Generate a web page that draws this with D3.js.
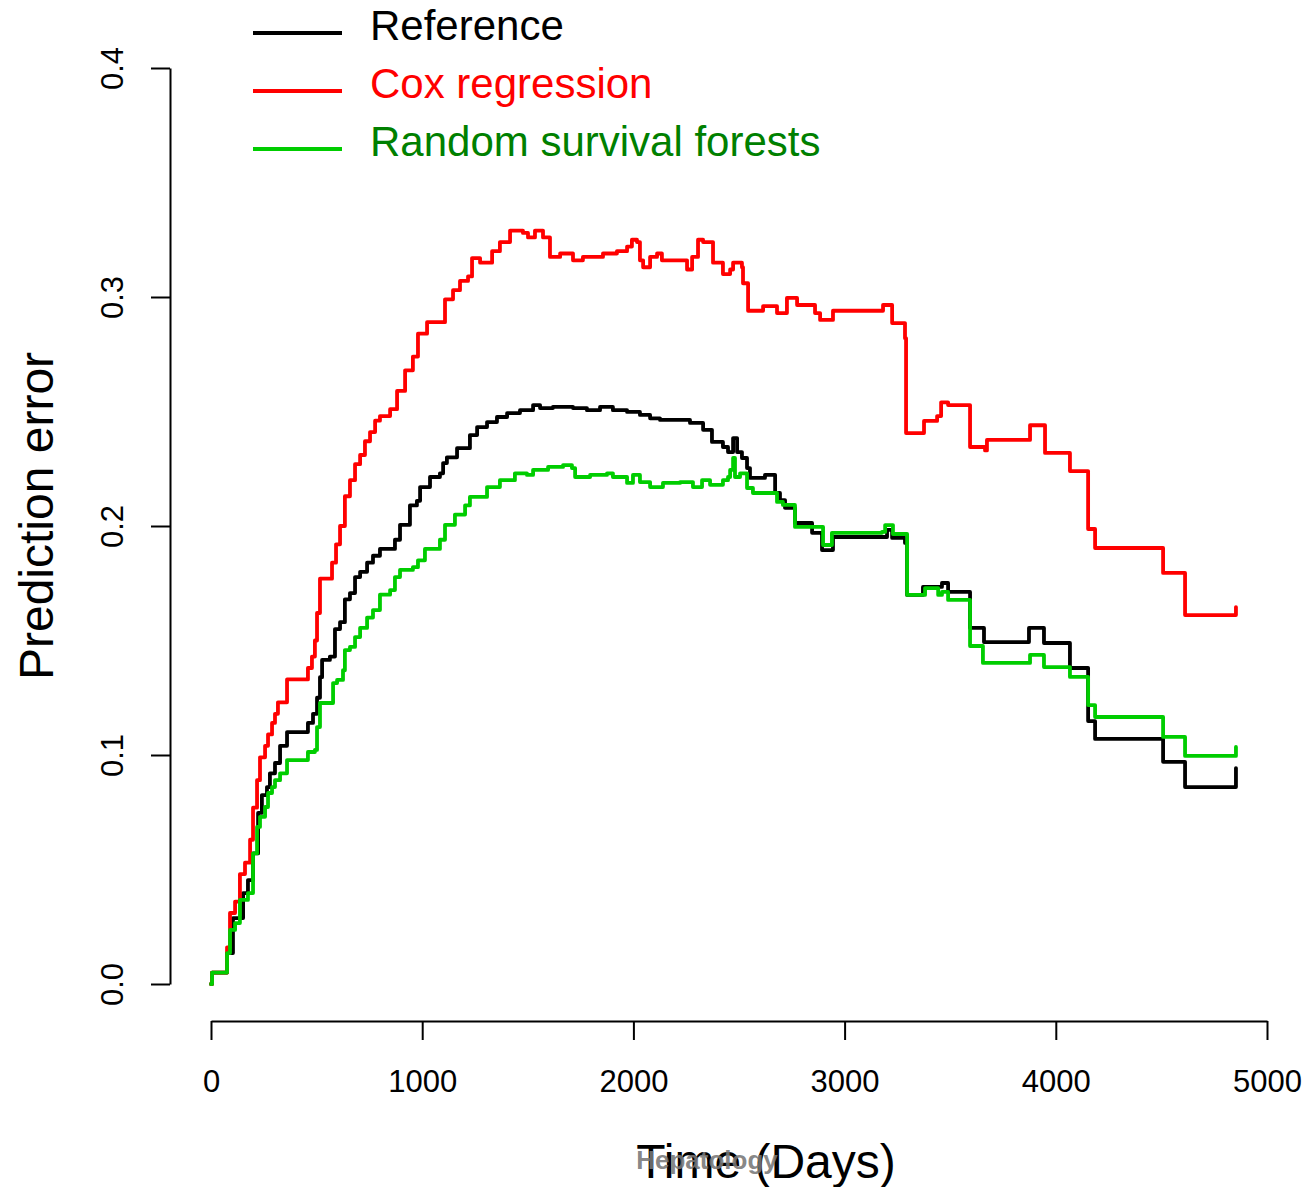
<!DOCTYPE html>
<html>
<head>
<meta charset="utf-8">
<script src="https://cdn.jsdelivr.net/npm/d3@7"></script>
<style>
  body { margin: 0; background: #fff; }
  svg text { font-family: "Liberation Sans", Arial, Helvetica, sans-serif; }
</style>
</head>
<body>
<div id="chart"></div>
<script>
// Chart size
var width = 1308;
var height = 1187;

// Series: [time in days, prediction error]
var refCurve = [
  [0, 0], [5, 0.005], [76, 0.0135], [104, 0.0288], [152, 0.0397], [175, 0.0454],
  [199, 0.057], [223, 0.0747], [241, 0.0825], [265, 0.086], [279, 0.092], [303, 0.0965],
  [327, 0.104], [360, 0.110], [459, 0.114], [483, 0.118], [502, 0.125], [516, 0.134],
  [526, 0.1415], [563, 0.143], [587, 0.155], [611, 0.158], [634, 0.168], [658, 0.1707],
  [682, 0.1777], [706, 0.180], [739, 0.184], [767, 0.187], [800, 0.190], [871, 0.194],
  [895, 0.2005], [942, 0.209], [975, 0.211], [990, 0.217], [1037, 0.2214], [1084, 0.223],
  [1099, 0.2275], [1117, 0.230], [1165, 0.234], [1226, 0.2397], [1260, 0.2432], [1307, 0.2454],
  [1354, 0.2476], [1402, 0.2493], [1463, 0.2506], [1525, 0.2528], [1558, 0.2515], [1619, 0.252],
  [1714, 0.2515], [1780, 0.2506], [1842, 0.252], [1903, 0.2506], [1970, 0.2498], [2031, 0.2485],
  [2079, 0.247], [2126, 0.2463], [2268, 0.245], [2330, 0.242], [2372, 0.2367], [2424, 0.2345],
  [2448, 0.2323], [2472, 0.2384], [2491, 0.2323], [2514, 0.2297], [2538, 0.2253], [2552, 0.221],
  [2623, 0.2223], [2671, 0.2144], [2694, 0.2113], [2718, 0.2079], [2765, 0.2013], [2846, 0.197],
  [2893, 0.1895], [2945, 0.1952], [3201, 0.1983], [3225, 0.1948], [3286, 0.1926], [3296, 0.1699],
  [3371, 0.1734], [3461, 0.1751], [3490, 0.1712], [3594, 0.1555], [3660, 0.1493], [3873, 0.1555],
  [3944, 0.1489], [4067, 0.138], [4153, 0.1148], [4186, 0.107], [4508, 0.097], [4612, 0.086],
  [4853, 0.0943]
];

var coxCurve = [
  [0, 0], [5, 0.005], [76, 0.016], [90, 0.031], [114, 0.036], [137, 0.048], [161, 0.053],
  [185, 0.063], [199, 0.077], [218, 0.089], [232, 0.099], [256, 0.104], [270, 0.109],
  [289, 0.114], [303, 0.118], [317, 0.123], [360, 0.133], [459, 0.138], [478, 0.143],
  [492, 0.150], [502, 0.162], [516, 0.177], [573, 0.184], [592, 0.192], [611, 0.200],
  [634, 0.213], [658, 0.220], [682, 0.227], [706, 0.231], [729, 0.237], [753, 0.241],
  [777, 0.246], [800, 0.248], [848, 0.251], [881, 0.259], [919, 0.268], [956, 0.274],
  [980, 0.284], [1023, 0.289], [1108, 0.299], [1146, 0.303], [1179, 0.307], [1217, 0.309],
  [1236, 0.317], [1274, 0.315], [1331, 0.320], [1368, 0.324], [1416, 0.329], [1477, 0.328],
  [1501, 0.326], [1534, 0.329], [1572, 0.326], [1605, 0.3175], [1653, 0.319], [1714, 0.316],
  [1761, 0.3175], [1856, 0.319], [1922, 0.320], [1970, 0.322], [1993, 0.325], [2017, 0.324],
  [2031, 0.316], [2046, 0.313], [2079, 0.3175], [2112, 0.319], [2135, 0.316], [2254, 0.312],
  [2278, 0.3175], [2306, 0.325], [2330, 0.324], [2377, 0.315], [2424, 0.310], [2458, 0.312],
  [2472, 0.315], [2514, 0.313], [2519, 0.306], [2543, 0.294], [2614, 0.296], [2680, 0.293],
  [2727, 0.2996], [2775, 0.2965], [2860, 0.293], [2884, 0.290], [2945, 0.294], [3182, 0.2965],
  [3225, 0.2886], [3286, 0.282], [3291, 0.2406], [3376, 0.2459], [3438, 0.248], [3457, 0.254],
  [3490, 0.2528], [3594, 0.2345], [3665, 0.233], [3674, 0.2376], [3878, 0.244], [3949, 0.2319],
  [4067, 0.224], [4153, 0.1987], [4186, 0.1904], [4508, 0.1795], [4612, 0.1611], [4853, 0.1646]
];

var rsfCurve = [
  [0, 0], [5, 0.005], [76, 0.0135], [90, 0.0236], [114, 0.0266], [137, 0.0367], [175, 0.0397],
  [199, 0.057], [218, 0.0686], [232, 0.073], [256, 0.0773], [270, 0.0834], [289, 0.086],
  [303, 0.089], [327, 0.092], [360, 0.0978], [459, 0.1013], [492, 0.1022], [502, 0.1122],
  [516, 0.1227], [578, 0.1314], [597, 0.1328], [625, 0.137], [634, 0.1458], [658, 0.1472],
  [682, 0.1515], [706, 0.1555], [739, 0.160], [767, 0.1633], [800, 0.170], [848, 0.172],
  [871, 0.1777], [895, 0.1808], [956, 0.182], [980, 0.185], [1013, 0.190], [1084, 0.194],
  [1108, 0.2005], [1155, 0.205], [1203, 0.209], [1226, 0.2127], [1307, 0.217], [1368, 0.220],
  [1439, 0.223], [1496, 0.2223], [1525, 0.2245], [1596, 0.2258], [1667, 0.2266], [1709, 0.2253],
  [1724, 0.2214], [1795, 0.2223], [1875, 0.223], [1903, 0.2214], [1970, 0.2188], [1998, 0.2223],
  [2031, 0.2192], [2079, 0.217], [2140, 0.2188], [2221, 0.2192], [2282, 0.217], [2325, 0.220],
  [2363, 0.218], [2424, 0.220], [2448, 0.2214], [2458, 0.2245], [2472, 0.2297], [2481, 0.2214],
  [2505, 0.223], [2538, 0.2166], [2566, 0.2144], [2661, 0.2144], [2680, 0.2105], [2708, 0.2092],
  [2765, 0.1996], [2898, 0.1917], [2940, 0.197], [3177, 0.1974], [3192, 0.2004], [3229, 0.1965],
  [3296, 0.1699], [3381, 0.1729], [3443, 0.1699], [3461, 0.1712], [3490, 0.1677], [3594, 0.1476],
  [3655, 0.1402], [3878, 0.1437], [3944, 0.1384], [4067, 0.1341], [4153, 0.1218], [4186, 0.1166],
  [4508, 0.1079], [4612, 0.0996], [4853, 0.1035]
];

// Legend entries and axis ticks
var seriesNames = ["Reference", "Cox regression", "Random survival forests"];
var lineColors = ["#000000", "#ff0000", "#00cd00"];
var textColors = ["#000000", "#ff0000", "#008000"];
var xTicks = [0, 1000, 2000, 3000, 4000, 5000];
var yTicks = [0, 0.1, 0.2, 0.3, 0.4];

// Scales
var x = d3.scaleLinear().domain([0, 5000]).range([211, 1267]);
var y = d3.scaleLinear().domain([0, 0.4]).range([984, 68]);

var svg = d3.select("#chart")
    .append("svg")
    .attr("width", width)
    .attr("height", height);

// Y axis (R style, offset to the left)
var yAxis = svg.append("g")
    .attr("transform", "translate(170,0)")
    .call(d3.axisLeft(y).tickValues(yTicks).tickFormat(d3.format(".1f")).tickSize(19).tickSizeOuter(0));
yAxis.selectAll("path, line").attr("stroke", "#000").attr("stroke-width", 2);
yAxis.selectAll("text")
    .attr("x", null).attr("dy", null)
    .attr("transform", "translate(-47,0) rotate(-90)")
    .attr("text-anchor", "middle")
    .style("font-size", "31px")
    .style("font-family", "'Liberation Sans', Arial, sans-serif")
    .attr("fill", "#000");

// X axis
var xAxis = svg.append("g")
    .attr("transform", "translate(0,1021)")
    .call(d3.axisBottom(x).tickValues(xTicks).tickFormat(d3.format("d")).tickSize(19).tickSizeOuter(0));
xAxis.selectAll("path, line").attr("stroke", "#000").attr("stroke-width", 2);
xAxis.selectAll("text")
    .attr("y", 71).attr("dy", null)
    .style("font-size", "31px")
    .style("font-family", "'Liberation Sans', Arial, sans-serif")
    .attr("fill", "#000");

// Axis titles
svg.append("text")
    .attr("transform", "translate(53,516) rotate(-90)")
    .attr("text-anchor", "middle")
    .style("font-size", "48px")
    .text("Prediction error");

svg.append("text")
    .attr("x", 766)
    .attr("y", 1178)
    .attr("text-anchor", "middle")
    .style("font-size", "48px")
    .text("Time (Days)");

// Curves
var line = d3.line()
    .curve(d3.curveStepAfter)
    .x(function(d) { return x(d[0]); })
    .y(function(d) { return y(d[1]); });

var curves = [refCurve, coxCurve, rsfCurve];
svg.selectAll("path.curve")
    .data(curves)
    .enter()
    .append("path")
    .attr("class", "curve")
    .attr("d", line)
    .attr("fill", "none")
    .attr("stroke", function(d, i) { return lineColors[i]; })
    .attr("stroke-width", 3.8)
    .attr("stroke-linejoin", "round")
    .attr("stroke-linecap", "round");

// Legend
var legend = svg.selectAll("g.legend")
    .data(seriesNames)
    .enter()
    .append("g")
    .attr("class", "legend")
    .attr("transform", function(d, i) { return "translate(0," + (33 + i * 58) + ")"; });

legend.append("line")
    .attr("x1", 253).attr("x2", 342)
    .attr("y1", 0).attr("y2", 0)
    .attr("stroke", function(d, i) { return lineColors[i]; })
    .attr("stroke-width", 3.8);

legend.append("text")
    .attr("x", 370)
    .attr("y", 7)
    .style("font-size", "42px")
    .attr("fill", function(d, i) { return textColors[i]; })
    .text(function(d) { return d; });

// Journal watermark (overlaps the x title, as in the source image)
svg.append("text")
    .attr("x", 707)
    .attr("y", 1169)
    .attr("text-anchor", "middle")
    .style("font-size", "26px")
    .style("font-weight", "bold")
    .attr("fill", "#777")
    .attr("fill-opacity", 0.9)
    .text("Hepatology");
</script>
</body>
</html>
